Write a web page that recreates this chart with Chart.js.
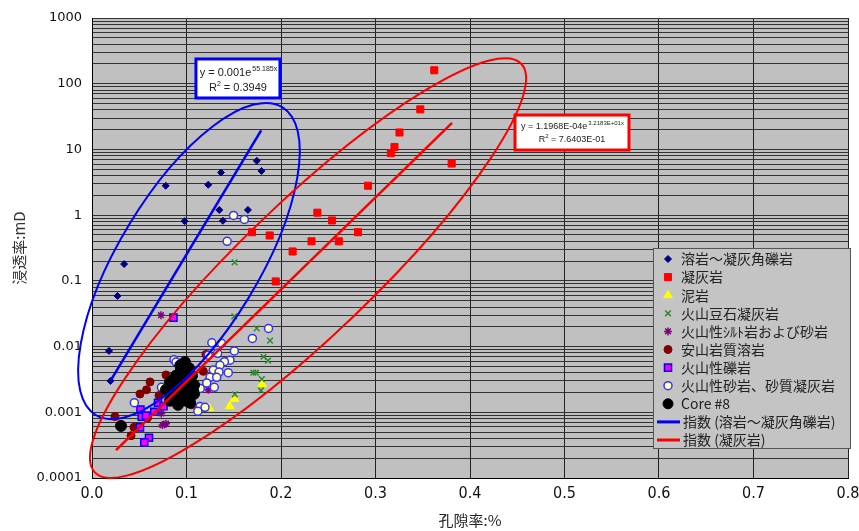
<!DOCTYPE html>
<html>
<head>
<meta charset="utf-8">
<script src="https://cdn.jsdelivr.net/npm/chart.js@4.4.0/dist/chart.umd.min.js"></script>
<style>
  html, body { margin: 0; padding: 0; background: #fff; }
</style>
</head>
<body>
<canvas id="myChart" width="859" height="531"></canvas>
<script>
'use strict'

// ---- data (porosity as fraction, permeability in mD) ----
const seriesNames = ['溶岩～凝灰角礫岩', '凝灰岩', '泥岩', '火山豆石凝灰岩', '火山性ｼﾙﾄ岩および砂岩',
  '安山岩質溶岩', '火山性礫岩', '火山性砂岩、砂質凝灰岩', 'Core #8'];
const trendNames = ['指数 (溶岩～凝灰角礫岩)', '指数 (凝灰岩)'];

const lavaPor = [0.018, 0.0195, 0.027, 0.034, 0.078, 0.098, 0.123, 0.1365, 0.1347, 0.1385, 0.165, 0.1744, 0.1793];
const lavaPerm = [0.0086, 0.0030, 0.059, 0.18, 2.8, 0.81, 2.9, 4.45, 1.2, 0.82, 1.2, 6.7, 4.7];

const tuffPor = [0.3622, 0.3474, 0.3254, 0.3201, 0.3162, 0.3806, 0.2921, 0.2385, 0.254, 0.2815, 0.1693, 0.188, 0.2323, 0.2612, 0.2123, 0.1944];
const tuffPerm = [160, 40.7, 18.1, 10.9, 8.8, 6.1, 2.8, 1.09, 0.83, 0.55, 0.55, 0.49, 0.40, 0.40, 0.28, 0.098];

const mudPor = [0.1801, 0.1508, 0.1457, 0.124];
const mudPerm = [0.0027, 0.0016, 0.00124, 0.00116];

const pisoPor = [0.1509, 0.1506, 0.1743, 0.1884, 0.1815, 0.1862, 0.1707, 0.1735, 0.1797, 0.1788, 0.1511];
const pisoPerm = [0.191, 0.0288, 0.0189, 0.0123, 0.0070, 0.0061, 0.0040, 0.0040, 0.0032, 0.00215, 0.00188];

const siltPor = [0.073, 0.0733, 0.0746, 0.0783, 0.1231];
const siltPerm = [0.030, 0.00096, 0.00064, 0.00067, 0.0022];

const andesitePor = [0.1206, 0.1178, 0.0783, 0.0614, 0.0577, 0.0508, 0.0709, 0.0243, 0.0444, 0.0413, 0.1056, 0.0587];
const andesitePerm = [0.0076, 0.0042, 0.0037, 0.0029, 0.0022, 0.0019, 0.0018, 0.00086, 0.00059, 0.00044, 0.0013, 0.00082];

const conglPor = [0.0862, 0.0698, 0.0757, 0.0659, 0.0513, 0.0526, 0.0571, 0.0508, 0.0603, 0.0553];
const conglPerm = [0.0276, 0.0014, 0.00124, 0.00102, 0.0011, 0.00086, 0.00089, 0.00059, 0.00041, 0.00035];

const sandPor = [0.1498, 0.1612, 0.143, 0.1868, 0.1697, 0.1268, 0.137, 0.1506, 0.1329, 0.1231, 0.146, 0.1401, 0.1354, 0.1284, 0.1344,
  0.1442, 0.1249, 0.132, 0.1214, 0.1294, 0.1146, 0.1143, 0.1196, 0.112, 0.0868, 0.0889, 0.0735, 0.0448, 0.0998];
const sandPerm = [0.99, 0.86, 0.40, 0.0189, 0.0133, 0.0114, 0.0112, 0.0086, 0.0079, 0.0074, 0.0062, 0.0059, 0.0052, 0.0044, 0.0041,
  0.0040, 0.0034, 0.0034, 0.0028, 0.0024, 0.0023, 0.00123, 0.00119, 0.00104, 0.0063, 0.0058, 0.0024, 0.0014, 0.0015];

const corePor = [0.0984, 0.1026, 0.0942, 0.1058, 0.0889, 0.0974, 0.0825, 0.108, 0.091, 0.1016, 0.0783, 0.0847, 0.0952, 0.1079,
  0.107, 0.0889, 0.0995, 0.091, 0.1037, 0.0825, 0.0307, 0.0935, 0.0865, 0.0995];
const corePerm = [0.0058, 0.0047, 0.0044, 0.0036, 0.0036, 0.0031, 0.0029, 0.0026, 0.0025, 0.0023, 0.0022, 0.0020, 0.0019, 0.0019,
  0.0021, 0.0016, 0.0015, 0.0013, 0.0014, 0.0015, 0.00062, 0.0052, 0.0026, 0.0040];

// trend line end points (exponential fit = straight on the log axis)
const lavaFitPor = [0.0195, 0.179];
const lavaFitPerm = [0.0030, 19.5];
const tuffFitPor = [0.0254, 0.381];
const tuffFitPerm = [0.000266, 25.4];

// hand drawn ellipses: centre, end of long axis, end of short axis
const lavaEllipsePor = [0.1026, 0.2013, 0.166];
const lavaEllipsePerm = [0.200, 44.0, 0.0561];
const tuffEllipsePor = [0.2286, 0.4542, 0.2771];
const tuffEllipsePerm = [0.1567, 201.5, 0.0292];

const lavaEquation = ['y = 0.001e', '55.185x', 'R', '2', ' = 0.3949'];
const tuffEquation = ['y = 1.1968E-04e', '3.2183E+01x', 'R', '2', ' = 7.6403E-01'];

const xTickValues = [0, 0.1, 0.2, 0.3, 0.4, 0.5, 0.6, 0.7, 0.8];
const xTickLabels = ['0.0', '0.1', '0.2', '0.3', '0.4', '0.5', '0.6', '0.7', '0.8'];
const yTickLabels = ['0.0001', '0.001', '0.01', '0.1', '1', '10', '100', '1000'];

// -------------------------------------------------------------------------

const jp = "'Noto Sans CJK JP', 'Noto Sans', sans-serif";

function pts(xs, ys) {
  return xs.map((x, i) => ({ x: x, y: ys[i] }));
}

// minor log grid: 1..9 of every decade
let yTickValues = [];
for (let e = -4; e <= 3; e++) {
  for (let m = 1; m <= 9; m++) {
    if (e === 3 && m > 1) break;
    yTickValues.push(m * Math.pow(10, e));
  }
}

function yLabel(v) {
  let l = Math.log10(v);
  if (Math.abs(l - Math.round(l)) < 1e-6) return yTickLabels[Math.round(l) + 4];
  return '';
}

const styles = [
  { pointStyle: 'rectRot', radius: 3.5, bg: '#000080', bd: '#000080', bw: 1 },
  { pointStyle: 'rect', radius: 5, bg: '#ff0000', bd: '#ff0000', bw: 1 },
  { pointStyle: 'triangle', radius: 5, bg: '#ffff00', bd: '#ffff00', bw: 1 },
  { pointStyle: 'crossRot', radius: 4, bg: '#2e8b2e', bd: '#2e8b2e', bw: 1.5 },
  { pointStyle: 'star', radius: 4, bg: '#800080', bd: '#800080', bw: 1.5 },
  { pointStyle: 'circle', radius: 4, bg: '#800000', bd: '#800000', bw: 1 },
  { pointStyle: 'rect', radius: 5, bg: '#ff00ff', bd: '#0000ff', bw: 1.5 },
  { pointStyle: 'circle', radius: 4, bg: '#ffffc0', bd: '#3333ff', bw: 1.5 },
  { pointStyle: 'circle', radius: 5.5, bg: '#000000', bd: '#000000', bw: 1 }
];

const seriesData = [
  pts(lavaPor, lavaPerm), pts(tuffPor, tuffPerm), pts(mudPor, mudPerm), pts(pisoPor, pisoPerm),
  pts(siltPor, siltPerm), pts(andesitePor, andesitePerm), pts(conglPor, conglPerm),
  pts(sandPor, sandPerm), pts(corePor, corePerm)
];

let datasets = seriesData.map((d, i) => ({
  label: seriesNames[i],
  data: d,
  showLine: false,
  pointStyle: styles[i].pointStyle,
  pointRadius: styles[i].radius,
  backgroundColor: styles[i].bg,
  borderColor: styles[i].bd,
  borderWidth: styles[i].bw,
  order: 20 - i
}));

datasets.push({
  label: trendNames[0], data: pts(lavaFitPor, lavaFitPerm), showLine: true,
  borderColor: '#0000ff', borderWidth: 2.5, pointRadius: 0, order: 1
});
datasets.push({
  label: trendNames[1], data: pts(tuffFitPor, tuffFitPerm), showLine: true,
  borderColor: '#ff0000', borderWidth: 2.5, pointRadius: 0, order: 0
});

function toPx(chart, x, y) {
  return [chart.scales.x.getPixelForValue(x), chart.scales.y.getPixelForValue(y)];
}

const plotBg = {
  id: 'plotBg',
  beforeDraw(chart) {
    const { ctx, chartArea: a } = chart;
    ctx.save();
    ctx.fillStyle = '#ffffff';
    ctx.fillRect(0, 0, chart.width, chart.height);
    ctx.fillStyle = '#c0c0c0';
    ctx.fillRect(a.left, a.top, a.right - a.left, a.bottom - a.top);
    ctx.restore();
  }
};

function drawEllipse(chart, por, perm, color) {
  const ctx = chart.ctx;
  const c = toPx(chart, por[0], perm[0]);
  const a = toPx(chart, por[1], perm[1]);
  const b = toPx(chart, por[2], perm[2]);
  const rx = Math.hypot(a[0] - c[0], a[1] - c[1]);
  const ry = Math.hypot(b[0] - c[0], b[1] - c[1]);
  const rot = Math.atan2(a[1] - c[1], a[0] - c[0]);
  ctx.save();
  ctx.beginPath();
  ctx.ellipse(c[0], c[1], rx, ry, rot, 0, Math.PI * 2);
  ctx.strokeStyle = color;
  ctx.lineWidth = 2;
  ctx.stroke();
  ctx.restore();
}

// equation box: anchored at a data point (top-left corner)
function drawEquation(chart, por, perm, w, h, color, eq, size, l1, l2) {
  const ctx = chart.ctx;
  const p = toPx(chart, por, perm);
  const x = p[0], y = p[1];
  ctx.save();
  ctx.fillStyle = '#fff';
  ctx.fillRect(x, y, w, h);
  ctx.strokeStyle = color;
  ctx.lineWidth = 3;
  ctx.strokeRect(x, y, w, h);
  ctx.fillStyle = '#222';
  ctx.textBaseline = 'middle';
  ctx.textAlign = 'left';
  const big = size + "px 'Liberation Sans', Arial, sans-serif";
  const small = Math.round(size * 0.62) + "px 'Liberation Sans', Arial, sans-serif";
  ctx.font = big;
  let w1 = ctx.measureText(eq[0]).width;
  ctx.font = small;
  let w2 = ctx.measureText(eq[1]).width;
  let sx = x + (w - w1 - w2) / 2;
  ctx.font = big;
  ctx.fillText(eq[0], sx, y + l1);
  ctx.font = small;
  ctx.fillText(eq[1], sx + w1 + 1, y + l1 - size * 0.4);
  ctx.font = big;
  let r1 = ctx.measureText(eq[2]).width;
  let r3 = ctx.measureText(eq[4]).width;
  ctx.font = small;
  let r2 = ctx.measureText(eq[3]).width;
  sx = x + (w - r1 - r2 - r3) / 2;
  ctx.font = big;
  ctx.fillText(eq[2], sx, y + l2);
  ctx.font = small;
  ctx.fillText(eq[3], sx + r1, y + l2 - size * 0.4);
  ctx.font = big;
  ctx.fillText(eq[4], sx + r1 + r2, y + l2);
  ctx.restore();
}

function drawMarker(ctx, st, x, y) {
  const r = Math.min(st.radius, 5);
  ctx.save();
  ctx.fillStyle = st.bg;
  ctx.strokeStyle = st.bd;
  ctx.lineWidth = st.bw;
  ctx.beginPath();
  if (st.pointStyle === 'circle') {
    ctx.arc(x, y, r, 0, Math.PI * 2);
    ctx.fill(); ctx.stroke();
  } else if (st.pointStyle === 'rect') {
    const s = r * Math.SQRT1_2;
    ctx.rect(x - s, y - s, 2 * s, 2 * s);
    ctx.fill(); ctx.stroke();
  } else if (st.pointStyle === 'rectRot') {
    ctx.moveTo(x, y - r); ctx.lineTo(x + r, y); ctx.lineTo(x, y + r); ctx.lineTo(x - r, y);
    ctx.closePath(); ctx.fill(); ctx.stroke();
  } else if (st.pointStyle === 'triangle') {
    ctx.moveTo(x, y - r);
    ctx.lineTo(x + r * 0.866, y + r * 0.5);
    ctx.lineTo(x - r * 0.866, y + r * 0.5);
    ctx.closePath(); ctx.fill(); ctx.stroke();
  } else {
    const d = r * Math.SQRT1_2;
    ctx.moveTo(x - d, y - d); ctx.lineTo(x + d, y + d);
    ctx.moveTo(x + d, y - d); ctx.lineTo(x - d, y + d);
    if (st.pointStyle === 'star') {
      ctx.moveTo(x, y - r); ctx.lineTo(x, y + r);
      ctx.moveTo(x - r, y); ctx.lineTo(x + r, y);
    }
    ctx.stroke();
  }
  ctx.restore();
}

const extras = {
  id: 'extras',
  afterDatasetsDraw(chart) {
    drawEllipse(chart, lavaEllipsePor, lavaEllipsePerm, '#0000ff');
    drawEllipse(chart, tuffEllipsePor, tuffEllipsePerm, '#ff0000');
  },
  afterDraw(chart) {
    const ctx = chart.ctx;
    drawEquation(chart, 0.110, 238, 84, 39, '#0000ff', lavaEquation, 11, 14, 29);
    drawEquation(chart, 0.4476, 33.4, 114, 35, '#ff0000', tuffEquation, 9, 12, 25);

    // legend box
    const lx = 653, ly = 248, lw = 197, lh = 200;
    ctx.save();
    ctx.fillStyle = '#c4c4c4';
    ctx.fillRect(lx, ly, lw, lh);
    ctx.strokeStyle = '#555';
    ctx.lineWidth = 1;
    ctx.strokeRect(lx + 0.5, ly + 0.5, lw, lh);
    ctx.font = '14px ' + jp;
    ctx.textBaseline = 'middle';
    ctx.fillStyle = '#222';
    const step = 18.1;
    for (let i = 0; i < seriesNames.length; i++) {
      const y = ly + 11 + i * step;
      drawMarker(ctx, styles[i], lx + 15, y);
      ctx.fillText(seriesNames[i], lx + 28, y);
    }
    const lineCols = ['#0000ff', '#ff0000'];
    for (let j = 0; j < trendNames.length; j++) {
      const y = ly + 11 + (seriesNames.length + j) * step;
      ctx.strokeStyle = lineCols[j];
      ctx.lineWidth = 3;
      ctx.beginPath();
      ctx.moveTo(lx + 4, y);
      ctx.lineTo(lx + 27, y);
      ctx.stroke();
      ctx.fillText(trendNames[j], lx + 30, y);
    }
    ctx.restore();
  }
};

let ctx = document.getElementById('myChart').getContext('2d');

new Chart(ctx, {
  type: 'scatter',
  data: { datasets: datasets },
  options: {
    responsive: false,
    animation: false,
    layout: { padding: { top: 18, right: 11, left: 0, bottom: 0 } },
    plugins: { legend: { display: false }, tooltip: { enabled: false } },
    scales: {
      x: {
        type: 'linear', min: 0, max: 0.8,
        afterBuildTicks: (s) => { s.ticks = xTickValues.map(v => ({ value: v })); },
        afterFit: (s) => { s.height = 53; s.paddingRight = 0; s.paddingLeft = 0; },
        grid: { color: '#222', lineWidth: 1, drawTicks: false },
        border: { color: '#000', width: 1 },
        ticks: {
          padding: 6, color: '#111', autoSkip: false, maxRotation: 0,
          font: { family: "'Liberation Sans Narrow', 'DejaVu Sans Condensed', sans-serif", size: 16 },
          callback: (v, i) => xTickLabels[i]
        },
        title: {
          display: true, text: '孔隙率:%', color: '#222',
          font: { family: jp, size: 15 }, padding: { top: 0, bottom: 2 }
        }
      },
      y: {
        type: 'logarithmic', min: 0.0001, max: 1000,
        afterBuildTicks: (s) => { s.ticks = yTickValues.map(v => ({ value: v })); },
        afterFit: (s) => { s.width = 92; s.paddingTop = 0; s.paddingBottom = 0; },
        grid: { color: '#333', lineWidth: 1, drawTicks: false },
        border: { color: '#000', width: 1 },
        ticks: {
          padding: 10, color: '#111', autoSkip: false,
          font: { family: "'DejaVu Sans', sans-serif", size: 13 },
          callback: (v) => yLabel(v)
        },
        title: {
          display: true, text: '浸透率:mD', color: '#333',
          font: { family: jp, size: 15 }, padding: { top: 10, bottom: 0 }
        }
      }
    }
  },
  plugins: [plotBg, extras]
});
</script>
</body>
</html>
